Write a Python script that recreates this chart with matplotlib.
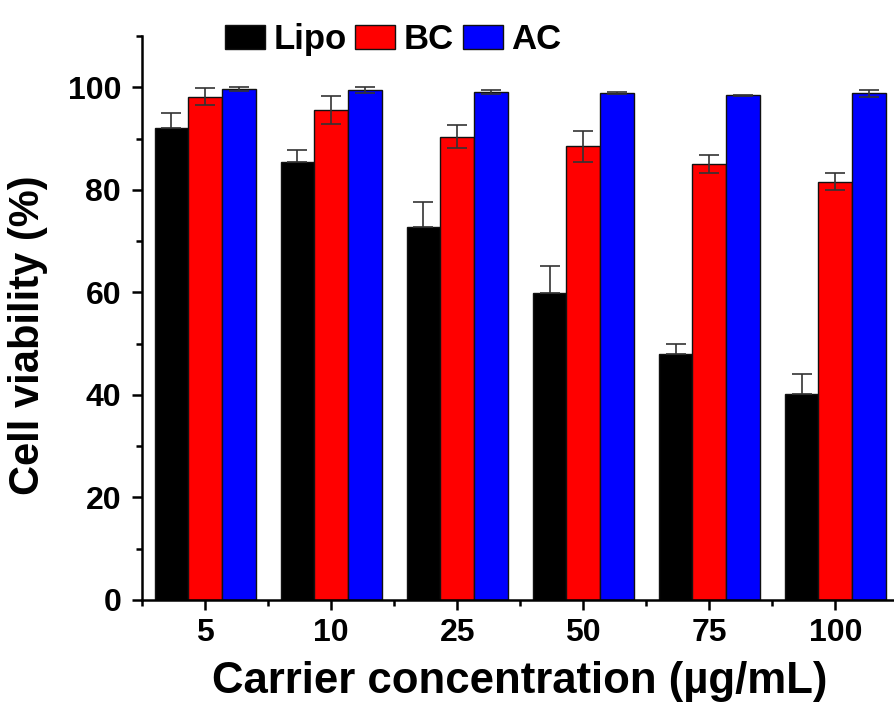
"""Cell viability bar chart for Lipo / BC / AC carriers."""
import numpy as np
import matplotlib
matplotlib.use("Agg")
import matplotlib.pyplot as plt
from matplotlib.ticker import MultipleLocator, FixedLocator

concentrations = ["5", "10", "25", "50", "75", "100"]
lipo = [92.0, 85.5, 72.8, 59.9, 48.0, 40.1]
lipo_err = [3.0, 2.3, 4.8, 5.2, 1.9, 4.0]
bc = [98.2, 95.6, 90.4, 88.5, 85.0, 81.6]
bc_err = [1.6, 2.7, 2.3, 3.0, 1.8, 1.6]
ac = [99.7, 99.4, 99.0, 98.8, 98.4, 98.8]
ac_err = [0.4, 0.6, 0.4, 0.2, 0.15, 0.6]

# Lipo error bars only drawn upward (lower half hidden in the black bar)
series = [("Lipo", lipo, [np.zeros(len(lipo_err)), lipo_err], "#000000"),
          ("BC", bc, bc_err, "#ff0000"),
          ("AC", ac, ac_err, "#0000ff")]

plt.rcParams["font.family"] = ["Liberation Sans", "DejaVu Sans"]
plt.rcParams["font.weight"] = "bold"

fig = plt.figure(figsize=(8.95, 7.02), dpi=100)
ax = fig.add_axes([0.1587, 0.1453, 0.845, 0.8034])

x = np.arange(len(concentrations))
w = 0.267
for i, (name, vals, errs, color) in enumerate(series):
    ax.bar(x + (i - 1) * w, vals, width=w, color=color, edgecolor="#111111",
           linewidth=1.0, label=name, yerr=errs,
           error_kw=dict(ecolor="#333333", elinewidth=1.2, capsize=7, capthick=1.2))

ax.set_xlim(-0.5, len(concentrations) - 0.5)
ax.set_ylim(0, 110)
ax.set_xticks(x)
ax.set_xticklabels(concentrations)
ax.xaxis.set_minor_locator(FixedLocator(np.arange(-0.5, len(concentrations), 1.0)))
ax.yaxis.set_major_locator(MultipleLocator(20))
ax.yaxis.set_minor_locator(MultipleLocator(10))
ax.set_yticks([0, 20, 40, 60, 80, 100])

ax.spines["top"].set_visible(False)
ax.spines["right"].set_visible(False)
for s in ("left", "bottom"):
    ax.spines[s].set_linewidth(1.8)

ax.tick_params(which="major", direction="out", length=7, width=1.8, labelsize=23)
ax.tick_params(which="minor", direction="out", length=4.5, width=1.8)
ax.tick_params(axis="y", which="major", pad=8)
ax.tick_params(axis="x", which="major", pad=6)

ax.set_xlabel("Carrier concentration (µg/mL)", fontsize=31.5, fontweight="bold",
              labelpad=9)
ax.set_ylabel("Cell viability (%)", fontsize=30, fontweight="bold")
ax.yaxis.set_label_coords(-0.125, 0.47)

ax.legend(loc="center", bbox_to_anchor=(0.332, 0.993), ncol=3, frameon=False,
          prop=dict(weight="bold", size=25),
          handlelength=1.15, handleheight=0.68, handletextpad=0.25,
          columnspacing=0.25, borderaxespad=0)

fig.savefig("out.png", dpi=100, facecolor="white")
